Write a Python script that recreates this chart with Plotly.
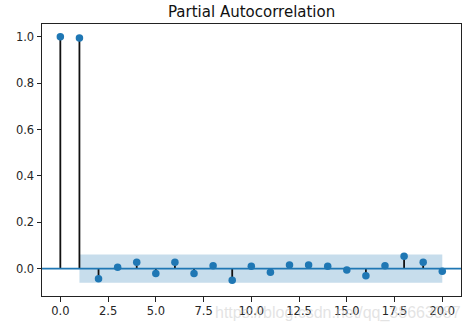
import plotly.graph_objects as go

# PACF values per lag
lags = list(range(21))
pacf_vals = [1.0, 0.995, -0.044, 0.006, 0.028, -0.021, 0.028, -0.021, 0.012, -0.050,
             0.010, -0.016, 0.016, 0.016, 0.010, -0.006, -0.031, 0.012, 0.053, 0.028, -0.011]
# confidence band (lags 1..20)
band_lags = list(range(1, 21))
band_upper = [0.061] * 20
band_lower = [-0.061] * 20

x_ticks = [0, 2.5, 5, 7.5, 10, 12.5, 15, 17.5, 20]
x_tick_text = ["0.0", "2.5", "5.0", "7.5", "10.0", "12.5", "15.0", "17.5", "20.0"]
y_ticks = [0.0, 0.2, 0.4, 0.6, 0.8, 1.0]
y_tick_text = ["0.0", "0.2", "0.4", "0.6", "0.8", "1.0"]

C0 = "#1f77b4"
FONT = "DejaVu Sans"

fig = go.Figure()

# confidence band
fig.add_trace(go.Scatter(x=band_lags, y=band_lower, mode="lines",
                         line=dict(width=0), hoverinfo="skip", showlegend=False))
fig.add_trace(go.Scatter(x=band_lags, y=band_upper, mode="lines", fill="tonexty",
                         fillcolor="rgba(31,119,180,0.25)", line=dict(width=0),
                         hoverinfo="skip", showlegend=False))

# stems
sx, sy = [], []
for k, v in zip(lags, pacf_vals):
    sx += [k, k, None]
    sy += [0, v, None]
fig.add_trace(go.Scatter(x=sx, y=sy, mode="lines", line=dict(color="#111111", width=1.8),
                         hoverinfo="skip", showlegend=False))

# zero line
fig.add_shape(type="line", xref="paper", yref="y", x0=0, x1=1, y0=0, y1=0,
              line=dict(color=C0, width=1.8))

# markers
fig.add_trace(go.Scatter(x=lags, y=pacf_vals, mode="markers",
                         marker=dict(color=C0, size=7.5, line=dict(width=0)),
                         showlegend=False))

axis_common = dict(showgrid=False, zeroline=False, showline=True, mirror=True,
                   linecolor="#222222", linewidth=1, ticks="outside", ticklen=4.5,
                   tickwidth=1, tickcolor="#222222",
                   tickfont=dict(family=FONT, size=11.5, color="#262626"))

fig.update_xaxes(range=[-0.96, 20.98], tickvals=x_ticks, ticktext=x_tick_text, **axis_common)
fig.update_yaxes(range=[-0.118, 1.055], tickvals=y_ticks, ticktext=y_tick_text, **axis_common)

fig.add_annotation(text="Partial Autocorrelation", xref="paper", yref="paper",
                   x=0.5, y=1, xanchor="center", yanchor="bottom", yshift=1,
                   showarrow=False, font=dict(family=FONT, size=15, color="#111111"))

# faint blog watermark
fig.add_annotation(text="https://blog.csdn.net/qq_38663087", xref="paper", yref="paper",
                   x=1.0, y=0, xanchor="right", yanchor="top", yshift=-6, xshift=2,
                   showarrow=False, font=dict(family="Liberation Sans", size=16,
                                              color="rgba(200,200,200,0.5)"))

fig.update_layout(width=476, height=330, margin=dict(l=42, r=15, t=24, b=34),
                  plot_bgcolor="white", paper_bgcolor="white",
                  font=dict(family=FONT))

fig.write_html("out.html")
